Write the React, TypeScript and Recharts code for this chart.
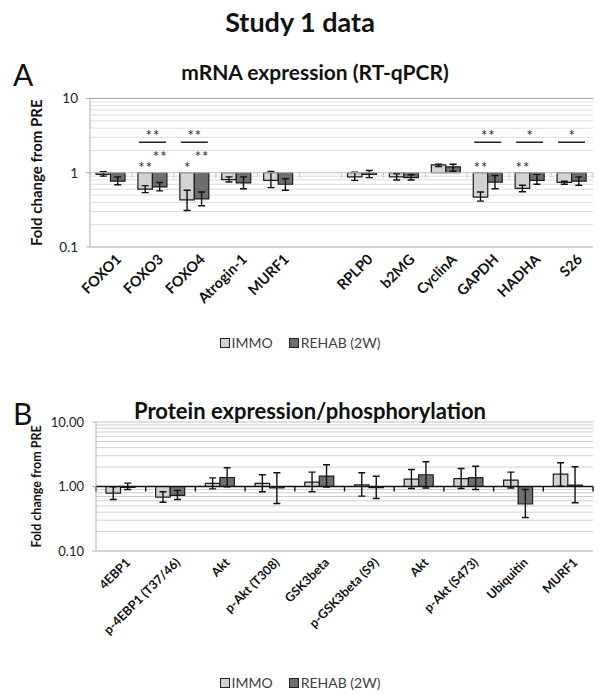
import React from "react";
import {
  BarChart,
  Bar,
  XAxis,
  YAxis,
  CartesianGrid,
  ReferenceLine,
  Legend,
  LabelList,
  Label,
} from "recharts";

const FONT = "Lato, 'Open Sans', sans-serif";
const LIGHT = "#d2d2d2";
const DARK = "#6e6e6e";
const EDGE = "#1c1c1c";

// ---- A: mRNA expression (RT-qPCR), fold change from PRE
const mrnaGenes = ["FOXO1", "FOXO3", "FOXO4", "Atrogin-1", "MURF1", "", "RPLP0", "b2MG", "CyclinA", "GAPDH", "HADHA", "S26"];
const mrnaImmo = [0.95, 0.6, 0.43, 0.81, 0.79, null, 0.88, 0.88, 1.28, 0.47, 0.615, 0.74];
const mrnaImmoLow = [0.9, 0.54, 0.31, 0.75, 0.63, null, 0.79, 0.8, 1.21, 0.415, 0.555, 0.7];
const mrnaImmoHigh = [1.03, 0.67, 0.58, 0.88, 1.04, null, 1.02, 0.97, 1.3, 0.55, 0.68, 0.77];
const mrnaRehab = [0.77, 0.645, 0.445, 0.73, 0.7, null, 0.95, 0.86, 1.2, 0.75, 0.79, 0.77];
const mrnaRehabLow = [0.69, 0.57, 0.36, 0.61, 0.58, null, 0.86, 0.8, 1.05, 0.61, 0.7, 0.68];
const mrnaRehabHigh = [0.88, 0.74, 0.55, 0.88, 0.83, null, 1.07, 0.94, 1.3, 0.92, 0.95, 0.88];
const mrnaSigImmo = ["", "**", "*", "", "", "", "", "", "", "**", "**", ""];
const mrnaSigRehab = ["", "**", "**", "", "", "", "", "", "", "", "", ""];
const mrnaSigPair = ["", "**", "**", "", "", "", "", "", "", "**", "*", "*"];

// ---- B: protein expression / phosphorylation
const proteinNames = ["4EBP1", "p-4EBP1 (T37/46)", "Akt", "p-Akt (T308)", "GSK3beta", "p-GSK3beta (S9)", "Akt", "p-Akt (S473)", "Ubiquitin", "MURF1"];
const protImmo = [0.79, 0.685, 1.12, 1.12, 1.17, 1.06, 1.3, 1.32, 1.26, 1.55];
const protImmoLow = [0.63, 0.57, 0.92, 0.83, 0.83, 0.71, 0.93, 0.93, 0.95, 1.01];
const protImmoHigh = [0.99, 0.83, 1.36, 1.52, 1.67, 1.63, 1.83, 1.9, 1.67, 2.33];
const protRehab = [0.97, 0.73, 1.38, 0.95, 1.45, 0.96, 1.52, 1.37, 0.535, 1.05];
const protRehabLow = [0.9, 0.63, 0.99, 0.545, 0.98, 0.65, 0.95, 0.9, 0.33, 0.56];
const protRehabHigh = [1.13, 0.87, 1.95, 1.63, 2.17, 1.44, 2.42, 2.06, 0.9, 2.02];

const logTicks = [0.1, 1, 10];
const minorGrid = [0.2, 0.3, 0.4, 0.5, 0.6, 0.7, 0.8, 0.9, 2, 3, 4, 5, 6, 7, 8, 9];

// bars hang from 1 (Excel draws the category axis across at 1)
const span = (v: number | null) => (v == null ? null : [Math.min(v, 1), Math.max(v, 1)]);

function toRows(
  names: string[],
  immo: (number | null)[],
  immoLo: (number | null)[],
  immoHi: (number | null)[],
  rehab: (number | null)[],
  rehabLo: (number | null)[],
  rehabHi: (number | null)[],
  sigImmo: string[] = [],
  sigRehab: string[] = [],
  sigPair: string[] = []
) {
  return names.map((name, i) => ({
    name,
    immo: span(immo[i]),
    rehab: span(rehab[i]),
    immoErr: immo[i] == null ? null : [immoLo[i], immoHi[i]],
    rehabErr: rehab[i] == null ? null : [rehabLo[i], rehabHi[i]],
    sigImmo: sigImmo[i] || "",
    sigRehab: sigRehab[i] || "",
    sigPair: sigPair[i] || "",
  }));
}

const mrnaRows = toRows(mrnaGenes, mrnaImmo, mrnaImmoLow, mrnaImmoHigh, mrnaRehab, mrnaRehabLow, mrnaRehabHigh, mrnaSigImmo, mrnaSigRehab, mrnaSigPair);
const proteinRows = toRows(proteinNames, protImmo, protImmoLow, protImmoHigh, protRehab, protRehabLow, protRehabHigh);

function Whisker(props: any) {
  const { x, y, width, height } = props;
  if (x == null || !Number.isFinite(y) || !Number.isFinite(height)) return null;
  const cx = x + width / 2;
  return (
    <g stroke="#111" strokeWidth={1.4}>
      <line x1={cx} x2={cx} y1={y} y2={y + height} />
      <line x1={cx - 3.5} x2={cx + 3.5} y1={y} y2={y} />
      <line x1={cx - 3.5} x2={cx + 3.5} y1={y + height} y2={y + height} />
    </g>
  );
}

// category axis drawn across the value 1, with ticks between the categories
const axisAtOne = (slots: number, color: string, width: number, tickLen: number) => (p: any) => {
  const { x1, x2, y1 } = p;
  const step = (x2 - x1) / slots;
  return (
    <g stroke={color} strokeWidth={width}>
      <line x1={x1} x2={x2} y1={y1} y2={y1} />
      {Array.from({ length: slots + 1 }, (_, i) => (
        <line key={i} x1={x1 + i * step} x2={x1 + i * step} y1={y1} y2={y1 + tickLen} />
      ))}
    </g>
  );
};

const stars = (lift: number) => (props: any) => {
  if (!props.value) return null;
  const vb = props.viewBox || props;
  return (
    <text x={vb.x + vb.width / 2 + 0.5} y={vb.y - lift} textAnchor="middle" fontFamily={FONT} fontSize={15} fill="#2a2a2a" letterSpacing={1}>
      {props.value}
    </text>
  );
};

const pairMark = (props: any) => {
  if (!props.value) return null;
  const vb = props.viewBox || props;
  const x1 = vb.x;
  const x2 = vb.x + vb.width * 2;
  const ly = vb.y - 30.5;
  return (
    <g>
      <line x1={x1 + 1} x2={x2 - 1} y1={ly} y2={ly} stroke="#222" strokeWidth={1.5} />
      <text x={(x1 + x2) / 2 + 0.5} y={ly - 1} textAnchor="middle" fontFamily={FONT} fontSize={15} fill="#2a2a2a" letterSpacing={1}>
        {props.value}
      </text>
    </g>
  );
};

const legendContent = (props: any) => (
  <div style={{ display: "flex", justifyContent: "center", gap: 16, fontFamily: FONT, fontSize: 14, color: "#404040" }}>
    {(props.payload || [])
      .filter((e: any) => e.type !== "none")
      .map((e: any) => (
        <span key={e.value} style={{ display: "flex", alignItems: "center" }}>
          <span style={{ width: 8, height: 8, background: e.color, border: "1px solid #222", marginRight: 2 }} />
          {e.value}
        </span>
      ))}
  </div>
);

interface PanelProps {
  rows: any[];
  height: number;
  top: number;
  bottom: number;
  axisHeight: number;
  yWidth: number;
  tickFmt: (v: number) => string;
  tickSize: number;
  labelSize: number;
  labelOffset: number;
  xFont: number;
  legendTop: number;
  oneColor: string;
  oneWidth: number;
  topColor: string;
  gridColor: string;
  withStars?: boolean;
}

function Panel(p: PanelProps) {
  const n = p.rows.length;
  return (
    <BarChart
      width={600}
      height={p.height}
      data={p.rows}
      margin={{ top: p.top, right: 7, left: 0, bottom: p.bottom }}
      barSize={14.5}
      barGap={0}
    >
      <CartesianGrid vertical={false} horizontalValues={minorGrid} stroke={p.gridColor} />
      <ReferenceLine y={10} stroke={p.topColor} />
      <ReferenceLine y={0.1} stroke="#a8a8a8" />
      <ReferenceLine y={1} shape={axisAtOne(n, p.oneColor, p.oneWidth, 5)} />
      <XAxis
        dataKey="name"
        height={p.axisHeight}
        axisLine={false}
        tickLine={false}
        interval={0}
        angle={-45}
        textAnchor="end"
        dx={4}
        dy={-2}
        tick={{ fontFamily: FONT, fontWeight: "bold", fontSize: p.xFont, fill: "#111" }}
      />
      <XAxis xAxisId="err" dataKey="name" hide />
      <YAxis
        scale="log"
        type="number"
        domain={[0.1, 10]}
        ticks={logTicks}
        allowDataOverflow
        interval={0}
        width={p.yWidth}
        tickFormatter={p.tickFmt}
        tick={{ fontFamily: FONT, fontSize: p.tickSize, fill: "#222" }}
        tickSize={4}
        tickMargin={8}
        stroke="#b0b0b0"
      >
        <Label
          value="Fold change from PRE"
          angle={-90}
          position="insideLeft"
          offset={p.labelOffset}
          style={{ textAnchor: "middle", fontFamily: FONT, fontWeight: "bold", fontSize: p.labelSize, fill: "#111" }}
        />
      </YAxis>
      <Legend
        verticalAlign="middle"
        align="center"
        layout="horizontal"
        content={legendContent}
        wrapperStyle={{ top: p.legendTop, left: 0, width: 600 }}
      />
      <Bar dataKey="immo" name="IMMO" fill={LIGHT} stroke={EDGE} strokeWidth={1.2} isAnimationActive={false}>
        {p.withStars && <LabelList dataKey="sigImmo" content={stars(0)} />}
        {p.withStars && <LabelList dataKey="sigPair" content={pairMark} />}
      </Bar>
      <Bar dataKey="rehab" name="REHAB (2W)" fill={DARK} stroke={EDGE} strokeWidth={1.2} isAnimationActive={false}>
        {p.withStars && <LabelList dataKey="sigRehab" content={stars(11)} />}
      </Bar>
      <Bar xAxisId="err" dataKey="immoErr" legendType="none" shape={Whisker} isAnimationActive={false} />
      <Bar xAxisId="err" dataKey="rehabErr" legendType="none" shape={Whisker} isAnimationActive={false} />
    </BarChart>
  );
}

export default function App() {
  return (
    <div style={{ position: "absolute", left: 0, top: 0, width: 600, height: 696, background: "#fff", fontFamily: FONT, color: "#111" }}>
      <div style={{ position: "absolute", top: 5, left: 0, width: 600, textAlign: "center", fontSize: 27, fontWeight: "bold" }}>
        Study 1 data
      </div>
      <div style={{ position: "absolute", top: 0, left: 0 }}>
        <Panel
          rows={mrnaRows}
          height={360}
          top={98.5}
          bottom={33}
          axisHeight={80}
          yWidth={90}
          tickFmt={(v) => String(v)}
          tickSize={13.5}
          labelSize={15}
          labelOffset={37}
          xFont={14.5}
          legendTop={334}
          oneColor="#c4c4c4"
          oneWidth={1}
          topColor="#a8a8a8"
          gridColor="#dcdcdc"
          withStars
        />
      </div>
      <div style={{ position: "absolute", top: 390, left: 0 }}>
        <Panel
          rows={proteinRows}
          height={306}
          top={32}
          bottom={35}
          axisHeight={110}
          yWidth={96}
          tickFmt={(v) => v.toFixed(2)}
          tickSize={13}
          labelSize={12.5}
          labelOffset={37}
          xFont={12.5}
          legendTop={284}
          oneColor="#111"
          oneWidth={1.4}
          topColor="#c0c0c0"
          gridColor="#d0d0d0"
        />
      </div>
      <div style={{ position: "absolute", top: 56, left: 13, fontSize: 30 }}>A</div>
      <div style={{ position: "absolute", top: 59, left: 0, width: 630, textAlign: "center", fontSize: 21, fontWeight: "bold" }}>
        mRNA expression (RT-qPCR)
      </div>
      <div style={{ position: "absolute", top: 395, left: 13, fontSize: 30 }}>B</div>
      <div style={{ position: "absolute", top: 397, left: 0, width: 620, textAlign: "center", fontSize: 22, fontWeight: "bold" }}>
        Protein expression/phosphorylation
      </div>
    </div>
  );
}
